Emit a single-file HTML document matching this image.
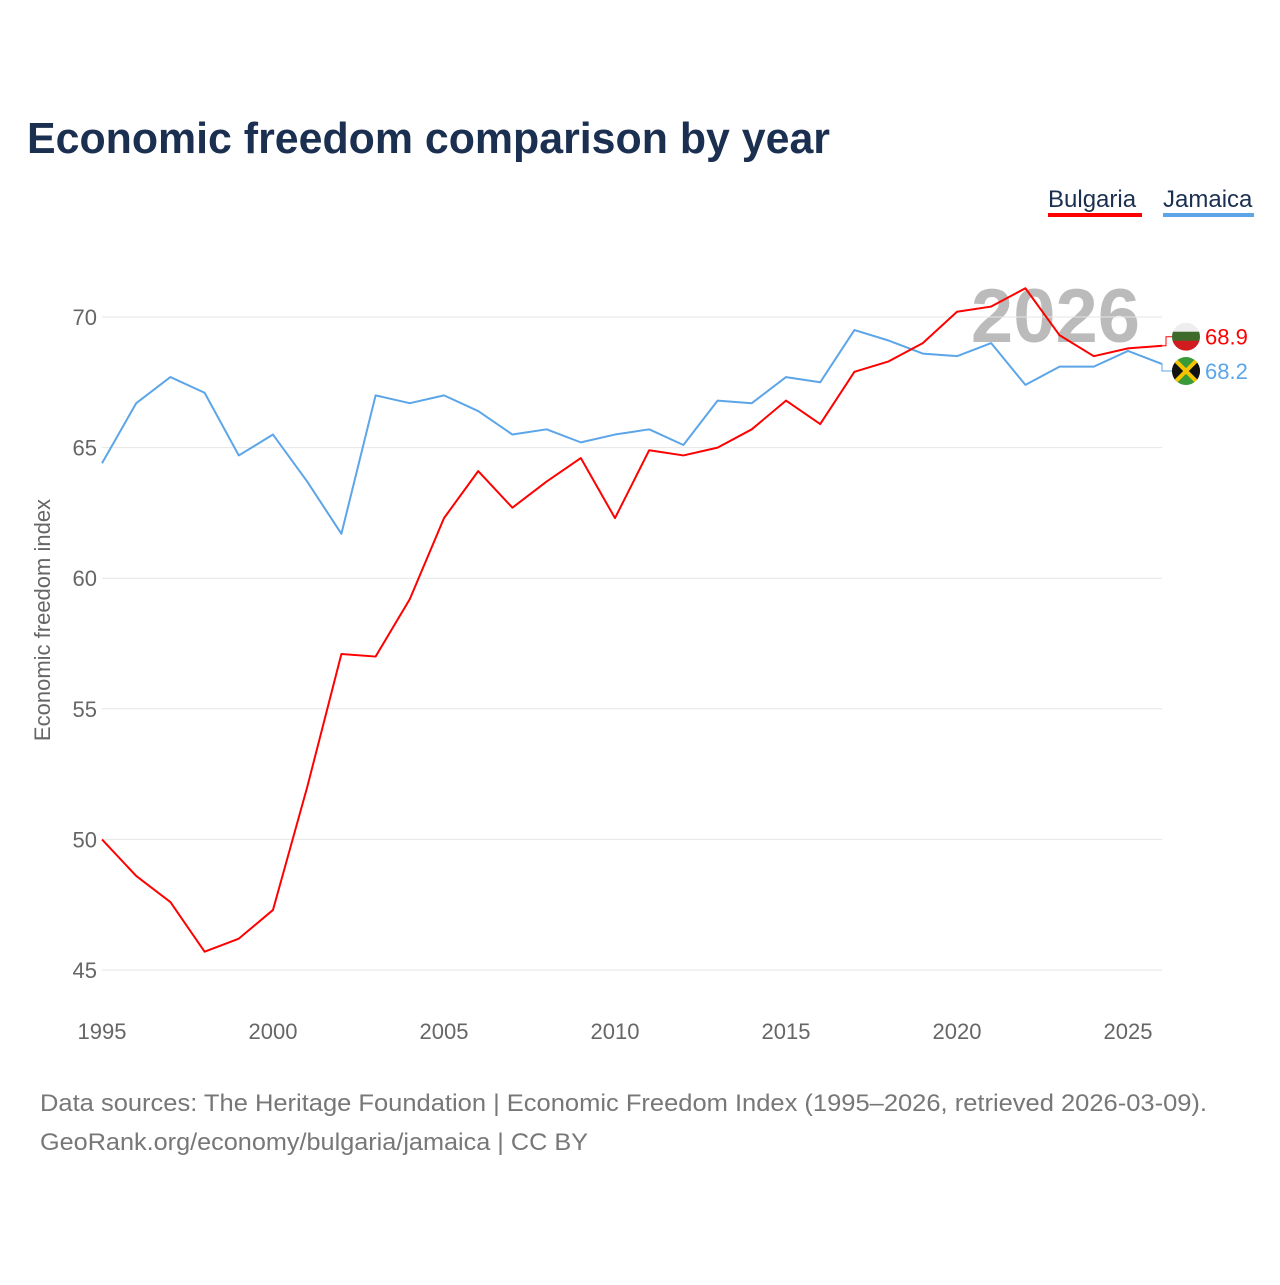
<!DOCTYPE html>
<html><head><meta charset="utf-8"><style>
body{margin:0;background:#fff;width:1280px;height:1280px;overflow:hidden;font-family:"Liberation Sans",sans-serif}
</style></head><body>
<svg id="chart" width="1280" height="1280" xmlns="http://www.w3.org/2000/svg" font-family="Liberation Sans, sans-serif">
<text x="27" y="153" font-size="44" font-weight="bold" fill="#1b2f50" textLength="803" lengthAdjust="spacingAndGlyphs">Economic freedom comparison by year</text>
<g><text x="1048" y="207" font-size="24" fill="#1b2f50">Bulgaria</text><rect x="1048" y="213" width="94" height="4" fill="#ff0000"/></g>
<g><text x="1163" y="207" font-size="24" fill="#1b2f50">Jamaica</text><rect x="1163" y="213" width="91" height="4" fill="#5ba5e8"/></g>
<text transform="translate(50,620) rotate(-90)" text-anchor="middle" font-size="22" fill="#666">Economic freedom index</text>
<text x="1140" y="342" text-anchor="end" font-size="76" font-weight="bold" fill="#bbb">2026</text>
<g id="grid"></g><g id="series"></g>
<text x="40" y="1111" font-size="24" fill="#777" textLength="1167" lengthAdjust="spacingAndGlyphs">Data sources: The Heritage Foundation | Economic Freedom Index (1995–2026, retrieved 2026-03-09).</text>
<text x="40" y="1150" font-size="24" fill="#777" textLength="548" lengthAdjust="spacingAndGlyphs">GeoRank.org/economy/bulgaria/jamaica | CC BY</text>
</svg>
<script>
const years=[];for(let y=1995;y<=2026;y++)years.push(y);
const bulgaria=[50.0,48.6,47.6,45.7,46.2,47.3,52.0,57.1,57.0,59.2,62.3,64.1,62.7,63.7,64.6,62.3,64.9,64.7,65.0,65.7,66.8,65.9,67.9,68.3,69.0,70.2,70.4,71.1,69.3,68.5,68.8,68.9];
const jamaica=[64.4,66.7,67.7,67.1,64.7,65.5,63.7,61.7,67.0,66.7,67.0,66.4,65.5,65.7,65.2,65.5,65.7,65.1,66.8,66.7,67.7,67.5,69.5,69.1,68.6,68.5,69.0,67.4,68.1,68.1,68.7,68.2];
const yTicks=[45,50,55,60,65,70];
const xTicks=[1995,2000,2005,2010,2015,2020,2025];
const NS="http://www.w3.org/2000/svg";
const x=v=>102+(v-1995)*(1128-102)/30;
const y=v=>317+(70-v)*(970-317)/25;
function mk(t,a,p){const e=document.createElementNS(NS,t);for(const k in a)e.setAttribute(k,a[k]);p.appendChild(e);return e;}
const g=document.getElementById('grid');
yTicks.forEach(t=>{
 const l=mk('line',{x1:102,x2:1162,y1:y(t),y2:y(t),stroke:'#e6e6e6','stroke-width':1},g);
 
 
 const tx=mk('text',{x:97,y:y(t)+8,'text-anchor':'end','font-size':22,fill:'#666'},g);tx.textContent=t;
 
 
});
xTicks.forEach(t=>{
 const tx=mk('text',{x:x(t),y:1039,'text-anchor':'middle','font-size':22,fill:'#666'},g);tx.textContent=t;
 
 
});
const s=document.getElementById('series');
function line(d,c,name){
 const p=mk('polyline',{points:d.map((v,i)=>x(years[i])+','+y(v)).join(' '),fill:'none',stroke:c,'stroke-width':2,'stroke-linejoin':'round'},s);
 
 
}
line(jamaica,'#5ba5e8','jamaica-line');
line(bulgaria,'#ff0000','bulgaria-line');
const lb=bulgaria[bulgaria.length-1],lj=jamaica[jamaica.length-1];
const by=y(lb)-9, jy=Math.max(y(lj)+7,by+34);
mk('path',{d:`M1162 ${y(lb)} H1166 V${by} H1172`,fill:'none',stroke:'#ff0000','stroke-width':1},s);
mk('path',{d:`M1162 ${y(lj)} V${jy} H1172`,fill:'none',stroke:'#5ba5e8','stroke-width':1},s);
const fb=mk('g',{},s);


const cb=mk('clipPath',{id:'cb'},fb);mk('circle',{cx:1186,cy:by,r:14},cb);
mk('rect',{x:1172,y:by-14,width:28,height:10,fill:'#eee','clip-path':'url(#cb)'},fb);
mk('rect',{x:1172,y:by-5,width:28,height:10,fill:'#3e6b2a','clip-path':'url(#cb)'},fb);
mk('rect',{x:1172,y:by+4,width:28,height:10,fill:'#d01c1f','clip-path':'url(#cb)'},fb);
const fj=mk('g',{},s);


const cj=mk('clipPath',{id:'cj'},fj);mk('circle',{cx:1186,cy:jy,r:14},cj);
mk('rect',{x:1172,y:jy-14,width:28,height:28,fill:'#3a9a3a','clip-path':'url(#cj)'},fj);
mk('path',{d:`M1172 ${jy-14} L1186 ${jy} L1172 ${jy+14}Z M1200 ${jy-14} L1186 ${jy} L1200 ${jy+14}Z`,fill:'#111','clip-path':'url(#cj)'},fj);
mk('path',{d:`M1172 ${jy-14} L1200 ${jy+14} M1200 ${jy-14} L1172 ${jy+14}`,stroke:'#f5c400','stroke-width':4,'clip-path':'url(#cj)'},fj);
const tb=mk('text',{x:1205,y:by+8,'font-size':22,fill:'#ff0000'},s);tb.textContent=lb.toFixed(1);


const tj=mk('text',{x:1205,y:jy+8,'font-size':22,fill:'#5ba5e8'},s);tj.textContent=lj.toFixed(1);


</script>
</body></html>
